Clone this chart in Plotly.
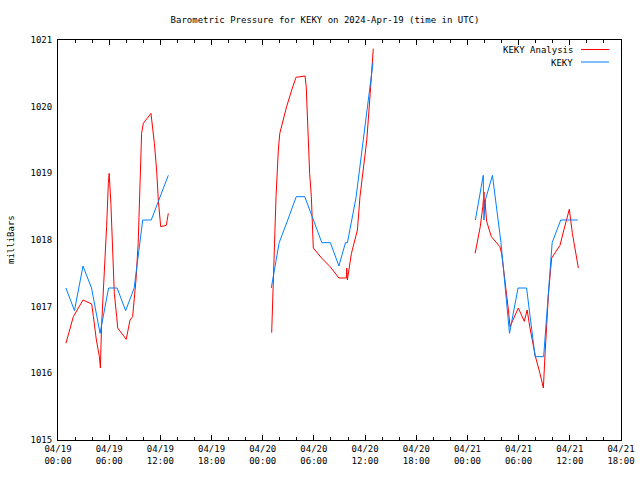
import pandas as pd
import plotly.graph_objects as go

BASE = pd.Timestamp("2024-04-19 00:00")

# hours since 2024-04-19 00:00 UTC; None = gap between data segments
analysis_hours = [
    0.93, 1.8, 2.93, 3.5, 3.95, 4.15, 4.34, 4.5, 4.85, 4.97, 5.1, 5.3, 5.5, 5.7, 5.9, 6.0,
    6.2, 6.4, 6.6, 6.88, 7.0, 8.0, 8.44, 8.75, 9.14, 9.4, 9.6, 9.8, 10.0, 10.4, 10.9,
    11.3, 11.56, 11.76, 12.04, 12.7, 12.93,
    None,
    25.05, 25.24, 25.56, 25.83, 26.0, 26.4, 26.8, 27.4, 27.9, 28.96, 29.1, 29.3, 29.5,
    29.7, 29.93, 30.9, 31.9, 32.93, 33.8, 33.85, 33.92, 34.4, 34.6, 35.1, 35.4, 35.8,
    36.2, 36.6, 36.96,
    None,
    48.9, 49.5, 49.8, 49.94, 50.0, 50.05, 50.25, 50.8, 51.8, 52.0, 52.2, 52.6, 52.8,
    52.99, 53.96, 54.66, 55.0, 55.3, 55.7, 55.97, 56.5, 56.9, 57.1, 57.5, 57.87, 58.85,
    59.3, 59.94, 60.3, 60.7, 61.0,
]
analysis_mb = [
    1016.45, 1016.85, 1017.1, 1017.07, 1017.04, 1016.85, 1016.65, 1016.5, 1016.25, 1016.08,
    1016.7, 1017.2, 1017.5, 1018.2, 1018.85, 1019.0,
    1018.55, 1017.85, 1017.2, 1016.85, 1016.68, 1016.51, 1016.8, 1016.85, 1017.4, 1017.95,
    1018.9, 1019.6, 1019.75, 1019.82, 1019.9,
    1019.45, 1019.05, 1018.6, 1018.2, 1018.22, 1018.4,
    None,
    1016.61, 1017.5, 1018.65, 1019.35, 1019.6, 1019.8, 1020.0, 1020.25, 1020.44, 1020.46,
    1020.3, 1019.65, 1019.0,
    1018.65, 1017.88, 1017.73, 1017.6, 1017.43, 1017.43, 1017.58, 1017.4, 1017.8, 1017.9,
    1018.15, 1018.65, 1019.1,
    1019.5, 1020.2, 1020.87,
    None,
    1017.8, 1018.2, 1018.5, 1018.72, 1018.4, 1018.6, 1018.28, 1018.05, 1017.9, 1017.8,
    1017.6, 1017.2, 1016.95,
    1016.7, 1016.98, 1016.78, 1016.95, 1016.7, 1016.4, 1016.25, 1016.0, 1015.78, 1016.3,
    1017.2, 1017.73, 1017.92,
    1018.15, 1018.46, 1018.1, 1017.8, 1017.58,
]

obs_hours = [
    0.93, 1.93, 2.93, 3.93, 4.93, 5.93, 6.93, 7.93, 8.93, 9.93, 10.93, 11.93, 12.93,
    None,
    25.0, 25.93, 26.93, 27.93, 28.93, 29.93, 30.93, 31.93, 32.93, 33.7, 33.93, 34.93,
    35.93, 36.93,
    None,
    48.93, 49.85, 49.93, 50.1, 50.93, 51.93, 52.93, 53.93, 54.93, 55.93, 56.93, 57.93,
    58.93, 59.93, 60.93,
]
obs_mb = [
    1017.28, 1016.94, 1017.61, 1017.28, 1016.6, 1017.28, 1017.28, 1016.94, 1017.28,
    1018.3, 1018.3, 1018.63, 1018.97,
    None,
    1017.28, 1017.96, 1018.3, 1018.65, 1018.65, 1018.3, 1017.96, 1017.96, 1017.61,
    1017.96, 1017.96, 1018.63, 1019.64, 1020.66,
    None,
    1018.3, 1018.97, 1018.3, 1018.6, 1018.97, 1017.96, 1016.6, 1017.28, 1017.28,
    1016.25, 1016.25, 1017.96, 1018.3, 1018.3, 1018.3,
]

series_names = ["KEKY Analysis", "KEKY"]
series_colors = ["#ff0000", "#0080ff"]


def to_time(hours):
    return [None if h is None else BASE + pd.Timedelta(hours=h) for h in hours]


FONT = "DejaVu Sans Mono, monospace"

W, H = 640, 480
PL, PR, PT, PB = 58, 621, 40, 440  # plot area in page px
PW, PH = PR - PL, PB - PT

fig = go.Figure()
fig.add_trace(go.Scatter(x=to_time(analysis_hours), y=analysis_mb, mode="lines",
                         name=series_names[0], line=dict(color=series_colors[0], width=1),
                         connectgaps=False, showlegend=False))
fig.add_trace(go.Scatter(x=to_time(obs_hours), y=obs_mb, mode="lines",
                         name=series_names[1], line=dict(color=series_colors[1], width=1),
                         connectgaps=False, showlegend=False))

x0 = BASE
x1 = BASE + pd.Timedelta(hours=66)

fig.update_layout(
    width=W, height=H,
    margin=dict(l=PL, r=W - PR, t=PT, b=H - PB, autoexpand=False),
    paper_bgcolor="white", plot_bgcolor="white",
    font=dict(family=FONT, size=9, color="black"),
    title=dict(text="Barometric Pressure for KEKY on 2024-Apr-19 (time in UTC)",
               x=325 / W, xanchor="center", y=1 - 20 / H, yanchor="middle",
               font=dict(family=FONT, size=9, color="black")),
    xaxis=dict(type="date", range=[x0, x1], dtick=6 * 3600 * 1000, tick0=x0,
               tickformat="%m/%d<br>%H:%M", showgrid=False, zeroline=False,
               showline=True, linecolor="black", linewidth=1, mirror="ticks",
               ticks="inside", ticklen=5, tickcolor="black",
               minor=dict(dtick=2 * 3600 * 1000, ticks="inside", ticklen=3,
                          tickcolor="black", showgrid=False),
               tickfont=dict(family=FONT, size=9)),
    yaxis=dict(range=[1015, 1021], dtick=1, showgrid=False, zeroline=False,
               showline=True, linecolor="black", linewidth=1, mirror=True,
               ticks="", ticklabelstandoff=3, tickfont=dict(family=FONT, size=9)),
)

# axis title
fig.add_annotation(text="milliBars", xref="paper", yref="paper",
                   x=(11 - PL) / PW, y=0.5, textangle=-90, showarrow=False,
                   xanchor="center", yanchor="middle", borderpad=0,
                   font=dict(family=FONT, size=9))

# gnuplot-style key: text then line sample
key_rows = [(50, 49.5), (63, 62)]
for (ty, ly), name, color in zip(key_rows, series_names, series_colors):
    fig.add_annotation(text=name, xref="paper", yref="paper",
                       x=(575 - PL) / PW, y=(PB - ty) / PH, showarrow=False,
                       xanchor="right", yanchor="middle", font=dict(family=FONT, size=9))
    fig.add_shape(type="line", xref="paper", yref="paper",
                  x0=(581 - PL) / PW, x1=(609 - PL) / PW,
                  y0=(PB - ly) / PH, y1=(PB - ly) / PH,
                  line=dict(color=color, width=1))

# remove the browser's default 8px body margin so the figure sits at the page origin
fig.write_html("out.html", config={"displayModeBar": False},
               post_script="document.body.style.margin='0';")
